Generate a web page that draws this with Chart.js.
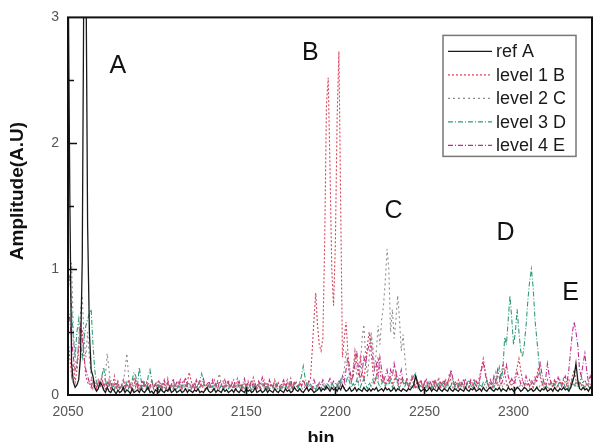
<!DOCTYPE html>
<html>
<head>
<meta charset="utf-8">
<script src="https://cdn.jsdelivr.net/npm/chart.js@4.4.1/dist/chart.umd.min.js"></script>
<style>
html,body{margin:0;padding:0;background:#fff;}
#wrap{width:597px;height:442px;}
</style>
</head>
<body>
<div id="wrap"><canvas id="c" width="597" height="442"></canvas></div>
<script>
// ---- data ----
const bins = [
2050,2051,2052,2053,2054,2055,2056,2057,2058,2059,
2060,2061,2062,2063,2064,2065,2066,2067,2068,2069,
2070,2071,2072,2073,2074,2075,2076,2077,2078,2079,
2080,2081,2082,2083,2084,2085,2086,2087,2088,2089,
2090,2091,2092,2093,2094,2095,2096,2097,2098,2099,
2100,2101,2102,2103,2104,2105,2106,2107,2108,2109,
2110,2111,2112,2113,2114,2115,2116,2117,2118,2119,
2120,2121,2122,2123,2124,2125,2126,2127,2128,2129,
2130,2131,2132,2133,2134,2135,2136,2137,2138,2139,
2140,2141,2142,2143,2144,2145,2146,2147,2148,2149,
2150,2151,2152,2153,2154,2155,2156,2157,2158,2159,
2160,2161,2162,2163,2164,2165,2166,2167,2168,2169,
2170,2171,2172,2173,2174,2175,2176,2177,2178,2179,
2180,2181,2182,2183,2184,2185,2186,2187,2188,2189,
2190,2191,2192,2193,2194,2195,2196,2197,2198,2199,
2200,2201,2202,2203,2204,2205,2206,2207,2208,2209,
2210,2211,2212,2213,2214,2215,2216,2217,2218,2219,
2220,2221,2222,2223,2224,2225,2226,2227,2228,2229,
2230,2231,2232,2233,2234,2235,2236,2237,2238,2239,
2240,2241,2242,2243,2244,2245,2246,2247,2248,2249,
2250,2251,2252,2253,2254,2255,2256,2257,2258,2259,
2260,2261,2262,2263,2264,2265,2266,2267,2268,2269,
2270,2271,2272,2273,2274,2275,2276,2277,2278,2279,
2280,2281,2282,2283,2284,2285,2286,2287,2288,2289,
2290,2291,2292,2293,2294,2295,2296,2297,2298,2299,
2300,2301,2302,2303,2304,2305,2306,2307,2308,2309,
2310,2311,2312,2313,2314,2315,2316,2317,2318,2319,
2320,2321,2322,2323,2324,2325,2326,2327,2328,2329,
2330,2331,2332,2333,2334,2335,2336,2337,2338,2339,
2340,2341,2342,2343,2344
];

const refA = [
3.6,1.6,0.25,0.1,0.06,0.08,0.12,0.3,1.07,3.6,
3.6,1.35,0.5,0.2,0.15,0.06,0.03,0.05,0.1,0.08,
0.04,0.02,0.06,0.03,0.02,0.05,0.03,0.01,0.04,0.02,
0.03,0.06,0.02,0.04,0.03,0.01,0.05,0.02,0.03,0.04,
0.02,0.05,0.03,0.02,0.04,0.06,0.02,0.03,0.01,0.04,
0.03,0.02,0.05,0.03,0.02,0.04,0.03,0.06,0.02,0.03,
0.05,0.02,0.03,0.04,0.02,0.03,0.05,0.02,0.04,0.03,
0.02,0.04,0.03,0.05,0.02,0.03,0.02,0.04,0.06,0.03,
0.02,0.03,0.05,0.02,0.04,0.03,0.02,0.05,0.03,0.04,
0.02,0.03,0.04,0.02,0.05,0.03,0.02,0.04,0.03,0.02,
0.05,0.03,0.04,0.02,0.03,0.06,0.02,0.03,0.04,0.02,
0.03,0.05,0.02,0.04,0.03,0.02,0.05,0.03,0.02,0.04,
0.03,0.02,0.05,0.03,0.04,0.02,0.03,0.06,0.04,0.03,
0.05,0.03,0.02,0.04,0.06,0.03,0.05,0.04,0.02,0.03,
0.04,0.06,0.03,0.05,0.04,0.07,0.05,0.03,0.06,0.04,
0.05,0.03,0.06,0.04,0.08,0.05,0.03,0.04,0.06,0.03,
0.04,0.06,0.03,0.05,0.04,0.03,0.06,0.04,0.03,0.05,
0.03,0.05,0.04,0.06,0.03,0.04,0.05,0.03,0.06,0.04,
0.05,0.03,0.04,0.06,0.03,0.05,0.04,0.03,0.05,0.04,
0.03,0.05,0.04,0.06,0.08,0.15,0.1,0.05,0.03,0.04,
0.05,0.03,0.04,0.06,0.03,0.05,0.04,0.03,0.06,0.04,
0.03,0.05,0.04,0.03,0.06,0.04,0.03,0.05,0.04,0.03,
0.05,0.04,0.03,0.06,0.04,0.03,0.05,0.04,0.06,0.03,
0.04,0.05,0.03,0.06,0.04,0.03,0.05,0.06,0.04,0.03,
0.05,0.04,0.06,0.03,0.05,0.04,0.03,0.06,0.04,0.05,
0.03,0.04,0.06,0.05,0.03,0.04,0.06,0.05,0.03,0.04,
0.05,0.03,0.04,0.06,0.04,0.03,0.05,0.04,0.06,0.03,
0.04,0.05,0.03,0.06,0.04,0.03,0.05,0.04,0.06,0.04,
0.05,0.03,0.06,0.1,0.15,0.25,0.12,0.05,0.04,0.06,
0.04,0.05,0.03,0.06,0.04
];

const level1B = [
0.45,0.3,0.15,0.25,0.1,0.2,0.35,0.5,0.52,0.3,
0.15,0.1,0.08,0.12,0.05,0.1,0.06,0.12,0.08,0.15,
0.05,0.1,0.06,0.12,0.04,0.08,0.15,0.06,0.1,0.05,
0.08,0.04,0.1,0.06,0.12,0.05,0.09,0.14,0.06,0.1,
0.05,0.08,0.12,0.06,0.1,0.04,0.07,0.11,0.05,0.09,
0.06,0.12,0.05,0.08,0.1,0.04,0.13,0.06,0.09,0.05,
0.08,0.06,0.11,0.05,0.09,0.12,0.06,0.1,0.18,0.12,
0.06,0.1,0.05,0.08,0.12,0.06,0.09,0.05,0.1,0.07,
0.05,0.09,0.12,0.06,0.1,0.05,0.08,0.11,0.06,0.09,
0.12,0.06,0.1,0.05,0.08,0.13,0.06,0.09,0.05,0.1,
0.07,0.11,0.06,0.09,0.14,0.08,0.05,0.1,0.06,0.09,
0.12,0.06,0.1,0.05,0.09,0.07,0.12,0.06,0.1,0.08,
0.05,0.1,0.07,0.12,0.06,0.09,0.05,0.11,0.08,0.06,
0.1,0.07,0.12,0.09,0.06,0.1,0.12,0.35,0.6,0.81,
0.55,0.4,0.35,0.45,1.2,2.3,2.52,1.8,1.0,0.71,
1.2,2.2,2.73,1.5,0.3,0.45,0.58,0.35,0.15,0.1,
0.2,0.35,0.25,0.15,0.3,0.2,0.1,0.25,0.4,0.5,
0.35,0.2,0.1,0.15,0.3,0.2,0.1,0.15,0.08,0.12,
0.1,0.15,0.08,0.12,0.2,0.1,0.06,0.14,0.1,0.08,
0.12,0.06,0.1,0.14,0.08,0.05,0.11,0.07,0.12,0.06,
0.09,0.13,0.06,0.1,0.08,0.12,0.05,0.09,0.14,0.07,
0.1,0.06,0.12,0.08,0.17,0.1,0.06,0.11,0.08,0.12,
0.07,0.1,0.06,0.12,0.09,0.05,0.1,0.08,0.13,0.06,
0.1,0.15,0.22,0.29,0.2,0.12,0.08,0.1,0.06,0.09,
0.12,0.07,0.1,0.15,0.25,0.18,0.1,0.06,0.12,0.08,
0.1,0.15,0.22,0.29,0.2,0.12,0.08,0.1,0.07,0.12,
0.09,0.06,0.11,0.15,0.22,0.14,0.08,0.1,0.06,0.12,
0.08,0.1,0.06,0.12,0.09,0.07,0.11,0.08,0.13,0.1,
0.07,0.12,0.09,0.15,0.2,0.12,0.08,0.11,0.07,0.1,
0.12,0.08,0.1,0.06,0.09
];

const level2C = [
1.0,0.9,1.05,0.5,0.3,0.2,0.45,0.65,0.79,0.45,
0.3,0.5,0.3,0.15,0.1,0.06,0.1,0.05,0.12,0.08,
0.05,0.15,0.33,0.2,0.08,0.05,0.1,0.06,0.04,0.08,
0.05,0.1,0.2,0.33,0.15,0.06,0.08,0.04,0.1,0.06,
0.04,0.08,0.05,0.1,0.06,0.04,0.09,0.05,0.07,0.04,
0.06,0.04,0.08,0.05,0.1,0.06,0.04,0.07,0.05,0.09,
0.04,0.07,0.05,0.08,0.04,0.06,0.09,0.05,0.04,0.07,
0.05,0.08,0.04,0.06,0.1,0.05,0.07,0.04,0.06,0.09,
0.05,0.04,0.08,0.06,0.12,0.17,0.08,0.05,0.07,0.04,
0.06,0.09,0.05,0.07,0.04,0.08,0.06,0.05,0.09,0.04,
0.07,0.05,0.08,0.04,0.06,0.09,0.05,0.07,0.04,0.08,
0.05,0.07,0.04,0.09,0.06,0.05,0.08,0.04,0.06,0.07,
0.05,0.08,0.06,0.04,0.09,0.05,0.07,0.06,0.1,0.05,
0.08,0.06,0.04,0.07,0.05,0.09,0.06,0.08,0.05,0.07,
0.06,0.09,0.05,0.08,0.06,0.1,0.07,0.05,0.09,0.06,
0.08,0.06,0.1,0.07,0.12,0.2,0.35,0.25,0.15,0.1,
0.2,0.3,0.15,0.1,0.2,0.45,0.56,0.3,0.15,0.3,
0.5,0.4,0.2,0.35,0.55,0.4,0.6,0.71,0.9,1.16,
1.0,0.5,0.68,0.45,0.6,0.79,0.6,0.35,0.48,0.3,
0.15,0.1,0.06,0.08,0.05,0.09,0.06,0.1,0.07,0.05,
0.08,0.06,0.1,0.05,0.07,0.09,0.06,0.08,0.05,0.1,
0.07,0.05,0.09,0.06,0.12,0.18,0.1,0.06,0.08,0.05,
0.09,0.06,0.08,0.05,0.1,0.07,0.05,0.09,0.06,0.08,
0.05,0.1,0.07,0.06,0.09,0.05,0.08,0.1,0.06,0.12,
0.18,0.1,0.07,0.09,0.06,0.1,0.08,0.05,0.09,0.07,
0.06,0.1,0.08,0.05,0.09,0.07,0.06,0.1,0.08,0.05,
0.09,0.06,0.1,0.07,0.05,0.08,0.1,0.06,0.09,0.07,
0.05,0.09,0.07,0.1,0.06,0.08,0.05,0.09,0.07,0.06,
0.1,0.07,0.05,0.09,0.06,0.08,0.1,0.06,0.09,0.07,
0.05,0.1,0.07,0.09,0.06
];

const level3D = [
0.85,0.95,0.7,0.45,0.3,0.5,0.6,0.4,0.3,0.45,
0.55,0.6,0.65,0.68,0.4,0.2,0.1,0.06,0.08,0.15,
0.22,0.12,0.06,0.1,0.05,0.08,0.04,0.1,0.06,0.05,
0.08,0.04,0.06,0.1,0.05,0.08,0.12,0.18,0.15,0.08,
0.22,0.12,0.06,0.1,0.05,0.15,0.2,0.12,0.06,0.09,
0.05,0.08,0.04,0.1,0.06,0.05,0.08,0.04,0.07,0.05,
0.09,0.05,0.07,0.04,0.08,0.06,0.05,0.09,0.06,0.04,
0.07,0.1,0.05,0.08,0.12,0.17,0.1,0.06,0.04,0.08,
0.05,0.07,0.04,0.09,0.06,0.05,0.08,0.04,0.06,0.09,
0.05,0.07,0.04,0.08,0.06,0.05,0.09,0.04,0.07,0.05,
0.08,0.05,0.07,0.04,0.09,0.06,0.05,0.08,0.04,0.06,
0.09,0.05,0.07,0.04,0.08,0.06,0.05,0.09,0.06,0.04,
0.07,0.05,0.08,0.06,0.04,0.09,0.06,0.1,0.07,0.05,
0.1,0.15,0.23,0.14,0.08,0.06,0.09,0.05,0.07,0.04,
0.08,0.06,0.05,0.09,0.06,0.04,0.08,0.06,0.1,0.07,
0.05,0.09,0.06,0.12,0.08,0.05,0.1,0.15,0.1,0.06,
0.09,0.07,0.12,0.08,0.06,0.1,0.14,0.08,0.05,0.1,
0.07,0.12,0.08,0.15,0.1,0.06,0.09,0.12,0.07,0.1,
0.08,0.12,0.06,0.1,0.14,0.08,0.05,0.09,0.12,0.07,
0.1,0.06,0.09,0.12,0.15,0.18,0.1,0.06,0.08,0.05,
0.09,0.06,0.1,0.07,0.05,0.08,0.11,0.06,0.09,0.05,
0.08,0.1,0.06,0.09,0.05,0.08,0.12,0.07,0.05,0.09,
0.06,0.1,0.07,0.05,0.09,0.12,0.08,0.06,0.1,0.07,
0.05,0.09,0.06,0.1,0.08,0.12,0.07,0.05,0.09,0.06,
0.1,0.15,0.22,0.12,0.2,0.46,0.4,0.6,0.79,0.6,
0.4,0.5,0.68,0.5,0.35,0.3,0.4,0.55,0.75,0.9,
1.0,0.85,0.6,0.45,0.3,0.15,0.1,0.06,0.09,0.05,
0.08,0.1,0.06,0.09,0.05,0.08,0.12,0.07,0.1,0.06,
0.09,0.05,0.08,0.12,0.07,0.1,0.06,0.09,0.15,0.08,
0.06,0.1,0.07,0.05,0.09
];

const level4E = [
0.7,0.6,0.45,0.3,0.2,0.25,0.4,0.55,0.45,0.3,
0.2,0.15,0.1,0.06,0.12,0.08,0.05,0.1,0.06,0.12,
0.08,0.05,0.1,0.06,0.12,0.04,0.09,0.06,0.11,0.05,
0.07,0.12,0.05,0.09,0.06,0.1,0.04,0.08,0.12,0.06,
0.09,0.05,0.11,0.07,0.04,0.1,0.06,0.12,0.05,0.08,
0.11,0.06,0.09,0.05,0.12,0.07,0.1,0.05,0.08,0.13,
0.06,0.1,0.07,0.12,0.05,0.09,0.14,0.07,0.1,0.06,
0.09,0.05,0.12,0.08,0.06,0.1,0.13,0.07,0.05,0.11,
0.07,0.12,0.06,0.09,0.05,0.11,0.08,0.06,0.12,0.07,
0.1,0.05,0.09,0.12,0.06,0.08,0.11,0.05,0.09,0.13,
0.06,0.1,0.07,0.12,0.05,0.09,0.06,0.11,0.08,0.14,
0.07,0.1,0.05,0.12,0.08,0.06,0.11,0.07,0.1,0.05,
0.09,0.12,0.06,0.1,0.07,0.13,0.05,0.09,0.11,0.06,
0.1,0.07,0.12,0.08,0.06,0.11,0.09,0.05,0.12,0.08,
0.06,0.1,0.08,0.12,0.07,0.05,0.1,0.13,0.08,0.11,
0.09,0.06,0.12,0.08,0.15,0.1,0.2,0.3,0.22,0.12,
0.15,0.25,0.35,0.2,0.12,0.18,0.3,0.25,0.35,0.4,
0.45,0.3,0.2,0.25,0.15,0.3,0.2,0.1,0.15,0.2,
0.12,0.2,0.15,0.25,0.18,0.1,0.14,0.2,0.1,0.08,
0.12,0.07,0.1,0.15,0.09,0.06,0.11,0.08,0.12,0.06,
0.1,0.13,0.07,0.11,0.08,0.06,0.12,0.09,0.05,0.1,
0.08,0.12,0.06,0.1,0.14,0.2,0.12,0.07,0.1,0.06,
0.11,0.08,0.13,0.06,0.1,0.07,0.12,0.09,0.05,0.11,
0.08,0.12,0.2,0.26,0.18,0.1,0.07,0.12,0.08,0.15,
0.1,0.2,0.14,0.08,0.12,0.18,0.24,0.15,0.1,0.13,
0.08,0.12,0.18,0.14,0.09,0.12,0.08,0.15,0.1,0.07,
0.12,0.09,0.14,0.1,0.18,0.25,0.16,0.1,0.13,0.25,
0.15,0.1,0.08,0.12,0.09,0.14,0.1,0.07,0.12,0.15,
0.1,0.2,0.35,0.5,0.58,0.5,0.4,0.2,0.15,0.25,
0.33,0.2,0.1,0.15,0.1
];

const seriesNames = ['ref A', 'level 1 B', 'level 2 C', 'level 3 D', 'level 4 E'];
const xTicks = [2050, 2100, 2150, 2200, 2250, 2300];
const yTicks = [0, 1, 2, 3];
const xTitle = 'bin';
const yTitle = 'Amplitude(A.U)';
const peakLetters = ['A', 'B', 'C', 'D', 'E'];
const letterBins = [2078, 2186, 2232.6, 2295.5, 2332];
const letterAmps = [2.61, 2.72, 1.46, 1.29, 0.81];

// ---- styles ----
const styles = [
  {color: '#1a1a1a', dash: [], width: 1.3},
  {color: '#d8455a', dash: [2, 2], width: 1.1},
  {color: '#8c8c8c', dash: [2, 3], width: 1.1},
  {color: '#2f9a7c', dash: [5, 2, 1, 2], width: 1.1},
  {color: '#bb2d8e', dash: [5, 2, 1, 2], width: 1.1}
];
const allSeries = [refA, level1B, level2C, level3D, level4E];

const datasets = allSeries.map((vals, k) => ({
  label: seriesNames[k],
  data: bins.map((b, i) => ({x: b, y: vals[i]})),
  borderColor: styles[k].color,
  borderDash: styles[k].dash,
  borderWidth: styles[k].width,
  pointRadius: 0,
  tension: 0,
  fill: false
}));

const FONT = "'Liberation Sans', Arial, sans-serif";

const decor = {
  id: 'decor',
  afterDatasetsDraw(chart) {
    const {ctx, chartArea: a, scales: {x, y}} = chart;
    ctx.save();
    // frame
    ctx.strokeStyle = '#111';
    ctx.lineWidth = 2;
    ctx.setLineDash([]);
    ctx.strokeRect(a.left, a.top, a.right - a.left, a.bottom - a.top);
    // inward ticks
    ctx.lineWidth = 1.6;
    ctx.beginPath();
    for (let v = 0.5; v < 3; v += 0.5) {
      const py = Math.round(y.getPixelForValue(v)) + 0.5;
      const len = (v % 1 === 0) ? 9 : 6;
      ctx.moveTo(a.left, py); ctx.lineTo(a.left + len, py);
    }
    xTicks.forEach(v => {
      if (v <= x.min) return;
      const px = Math.round(x.getPixelForValue(v)) + 0.5;
      ctx.moveTo(px, a.bottom); ctx.lineTo(px, a.bottom - 8);
    });
    ctx.stroke();
    // axis titles
    ctx.fillStyle = '#111';
    ctx.font = 'bold 19px ' + FONT;
    ctx.textAlign = 'center';
    ctx.textBaseline = 'middle';
    ctx.save();
    ctx.translate(18, 191);
    ctx.rotate(-Math.PI / 2);
    ctx.fillText(yTitle, 0, 0);
    ctx.restore();
    ctx.font = 'bold 18px ' + FONT;
    ctx.fillText(xTitle, 321, 439);
    // peak letters
    ctx.font = '25px ' + FONT;
    peakLetters.forEach((t, i) => {
      ctx.fillText(t, x.getPixelForValue(letterBins[i]), y.getPixelForValue(letterAmps[i]));
    });
    // legend box
    const lx = a.right - 149, ly = a.top + 18, lw = 133, lh = 121;
    ctx.fillStyle = '#fff';
    ctx.fillRect(lx, ly, lw, lh);
    ctx.strokeStyle = '#777';
    ctx.lineWidth = 1.5;
    ctx.strokeRect(lx, ly, lw, lh);
    ctx.font = '18px ' + FONT;
    ctx.textAlign = 'left';
    ctx.textBaseline = 'middle';
    seriesNames.forEach((name, k) => {
      const cy = ly + 16 + k * 23.5;
      ctx.strokeStyle = styles[k].color;
      ctx.lineWidth = styles[k].width;
      ctx.setLineDash(styles[k].dash);
      ctx.beginPath();
      ctx.moveTo(lx + 5, cy); ctx.lineTo(lx + 49, cy);
      ctx.stroke();
      ctx.setLineDash([]);
      ctx.fillStyle = '#1a1a1a';
      ctx.fillText(name, lx + 53, cy + 1);
    });
    ctx.restore();
  }
};

new Chart(document.getElementById('c'), {
  type: 'line',
  data: {datasets},
  plugins: [decor],
  options: {
    responsive: false,
    animation: false,
    events: [],
    layout: {padding: {top: 9, right: 5, left: 0, bottom: 0}},
    plugins: {legend: {display: false}, tooltip: {enabled: false}},
    scales: {
      x: {
        type: 'linear',
        min: 2050,
        max: 2344,
        afterFit: s => { s.height = 47; },
        afterBuildTicks: s => { s.ticks = xTicks.map(v => ({value: v})); },
        grid: {display: false, drawTicks: false},
        border: {display: false},
        ticks: {padding: 9, color: '#555', font: {family: FONT, size: 14}, maxRotation: 0, autoSkip: false,
                callback: v => String(v)},
        title: {display: false}
      },
      y: {
        type: 'linear',
        min: 0,
        max: 3,
        afterFit: s => { s.width = 68; },
        afterBuildTicks: s => { s.ticks = yTicks.map(v => ({value: v})); },
        grid: {display: false, drawTicks: false},
        border: {display: false},
        ticks: {padding: 9, color: '#555', font: {family: FONT, size: 14}, callback: v => String(v)},
        title: {display: false}
      }
    }
  }
});
</script>
</body>
</html>
